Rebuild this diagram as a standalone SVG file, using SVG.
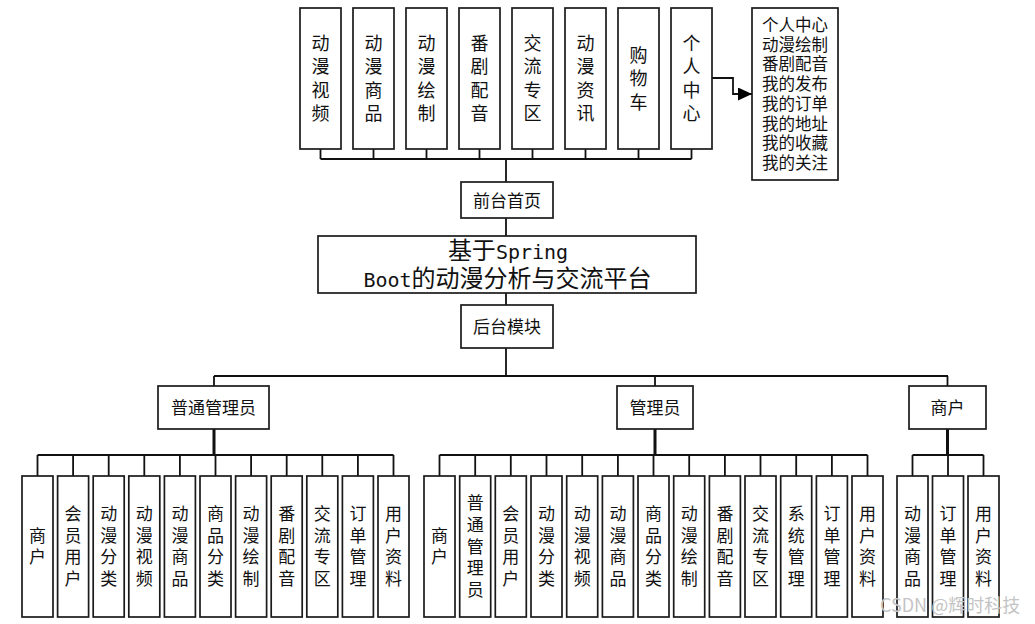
<svg xmlns="http://www.w3.org/2000/svg" width="1035" height="624" viewBox="0 0 1035 624">
<defs>
<style>
.bx{fill:#fff;stroke:#1a1a1a;stroke-width:1.7}
.ln{fill:none;stroke:#111;stroke-width:1.8}
.tk{fill:none;stroke:#111;stroke-width:3}
text{font-family:"Noto Sans CJK SC","Noto Sans",sans-serif;fill:#111}
.v18{font-size:18px;text-anchor:middle}
.v17{font-size:17px;text-anchor:middle}
.h17{font-size:17px;text-anchor:middle}
.lst{font-size:16.5px}
.ttl{font-size:24px;text-anchor:middle}
.mono{font-family:"DejaVu Sans Mono","Liberation Mono",monospace;font-size:20px}
.wm{font-size:18px;fill:#c4c4c4}
</style>
<marker id="ah" markerWidth="14" markerHeight="13" refX="14" refY="6.5" orient="auto" markerUnits="userSpaceOnUse">
<path d="M0,0 L14,6.5 L0,13 Z" fill="#000"/>
</marker>
</defs>
<rect width="1035" height="624" fill="#fff"/>
<g id="connectors">
<path class="ln" d="M320.5,149V159M373.5,149V159M426.5,149V159M479.5,149V159M532.5,149V159M585.5,149V159M638.5,149V159M691.5,149V159M320.5,159H691.5"/>
<path class="ln" d="M506,159V182M506,218V236M506,293V305M506,348V376"/>
<path class="ln" d="M711,78H733V94H752" marker-end="url(#ah)"/>
<path class="ln" d="M214,376H948M214,376V386M655,376V386M947.5,376V386"/>
<path class="tk" d="M214,429V455M655,429V455M947.5,429V455"/>
<path class="ln" d="M37.5,455H393.5M37.5,455V476M73.1,455V476M108.7,455V476M144.3,455V476M179.9,455V476M215.5,455V476M251.1,455V476M286.7,455V476M322.3,455V476M357.9,455V476M393.5,455V476"/>
<path class="ln" d="M439.5,455H867.5M439.5,455V476M475.2,455V476M510.8,455V476M546.5,455V476M582.2,455V476M617.9,455V476M653.5,455V476M689.2,455V476M724.9,455V476M760.5,455V476M796.2,455V476M831.9,455V476M867.5,455V476"/>
<path class="ln" d="M912.5,455H983.5M912.5,455V476M948,455V476M983.5,455V476"/>
</g>
<g id="top-nodes">
<g id="t1"><rect class="bx" x="300" y="8" width="41" height="141"/><text class="v18"><tspan x="320.5" y="49.5">动</tspan><tspan x="320.5" y="73">漫</tspan><tspan x="320.5" y="96.5">视</tspan><tspan x="320.5" y="120">频</tspan></text></g>
<g id="t2"><rect class="bx" x="353" y="8" width="41" height="141"/><text class="v18"><tspan x="373.5" y="49.5">动</tspan><tspan x="373.5" y="73">漫</tspan><tspan x="373.5" y="96.5">商</tspan><tspan x="373.5" y="120">品</tspan></text></g>
<g id="t3"><rect class="bx" x="406" y="8" width="41" height="141"/><text class="v18"><tspan x="426.5" y="49.5">动</tspan><tspan x="426.5" y="73">漫</tspan><tspan x="426.5" y="96.5">绘</tspan><tspan x="426.5" y="120">制</tspan></text></g>
<g id="t4"><rect class="bx" x="459" y="8" width="41" height="141"/><text class="v18"><tspan x="479.5" y="49.5">番</tspan><tspan x="479.5" y="73">剧</tspan><tspan x="479.5" y="96.5">配</tspan><tspan x="479.5" y="120">音</tspan></text></g>
<g id="t5"><rect class="bx" x="512" y="8" width="41" height="141"/><text class="v18"><tspan x="532.5" y="49.5">交</tspan><tspan x="532.5" y="73">流</tspan><tspan x="532.5" y="96.5">专</tspan><tspan x="532.5" y="120">区</tspan></text></g>
<g id="t6"><rect class="bx" x="565" y="8" width="41" height="141"/><text class="v18"><tspan x="585.5" y="49.5">动</tspan><tspan x="585.5" y="73">漫</tspan><tspan x="585.5" y="96.5">资</tspan><tspan x="585.5" y="120">讯</tspan></text></g>
<g id="t7"><rect class="bx" x="618" y="8" width="41" height="141"/><text class="v18"><tspan x="638.5" y="61.5">购</tspan><tspan x="638.5" y="85">物</tspan><tspan x="638.5" y="108.5">车</tspan></text></g>
<g id="t8"><rect class="bx" x="671" y="8" width="41" height="141"/><text class="v18"><tspan x="691.5" y="49.5">个</tspan><tspan x="691.5" y="73">人</tspan><tspan x="691.5" y="96.5">中</tspan><tspan x="691.5" y="120">心</tspan></text></g>
<g id="personal-list"><rect class="bx" x="752" y="8" width="86" height="172" fill="#fbfdff"/><text class="lst"><tspan x="762" y="31">个人中心</tspan><tspan x="762" y="50.7">动漫绘制</tspan><tspan x="762" y="70.4">番剧配音</tspan><tspan x="762" y="90.1">我的发布</tspan><tspan x="762" y="109.8">我的订单</tspan><tspan x="762" y="129.5">我的地址</tspan><tspan x="762" y="149.2">我的收藏</tspan><tspan x="762" y="168.9">我的关注</tspan></text></g>
</g>
<g id="front"><rect class="bx" x="461" y="182" width="92" height="36"/><text class="h17" x="507" y="206.5">前台首页</text></g>
<g id="main"><rect class="bx" x="318" y="236" width="378" height="57"/><text class="ttl"><tspan x="508" y="258.5">基于<tspan class="mono">Spring</tspan></tspan><tspan x="507.5" y="287"><tspan class="mono">Boot</tspan>的动漫分析与交流平台</tspan></text></g>
<g id="back"><rect class="bx" x="461" y="305" width="92" height="43"/><text class="h17" x="507" y="333">后台模块</text></g>
<g id="role1"><rect class="bx" x="158" y="386" width="111" height="43"/><text class="h17" x="213.5" y="414" font-size="17.5">普通管理员</text></g>
<g id="role2"><rect class="bx" x="617" y="386" width="76" height="43"/><text class="h17" x="655" y="414" font-size="17.5">管理员</text></g>
<g id="role3"><rect class="bx" x="909" y="386" width="77" height="43"/><text class="h17" x="947.5" y="414" font-size="17.5">商户</text></g>
<g id="group-a">
<g id="a1"><rect class="bx" x="22" y="476" width="31" height="141"/><text class="v17"><tspan x="37.5" y="541.6">商</tspan><tspan x="37.5" y="563.3">户</tspan></text></g>
<g id="a2"><rect class="bx" x="57.6" y="476" width="31" height="141"/><text class="v17"><tspan x="73.1" y="520">会</tspan><tspan x="73.1" y="541.6">员</tspan><tspan x="73.1" y="563.3">用</tspan><tspan x="73.1" y="585">户</tspan></text></g>
<g id="a3"><rect class="bx" x="93.2" y="476" width="31" height="141"/><text class="v17"><tspan x="108.7" y="520">动</tspan><tspan x="108.7" y="541.6">漫</tspan><tspan x="108.7" y="563.3">分</tspan><tspan x="108.7" y="585">类</tspan></text></g>
<g id="a4"><rect class="bx" x="128.8" y="476" width="31" height="141"/><text class="v17"><tspan x="144.3" y="520">动</tspan><tspan x="144.3" y="541.6">漫</tspan><tspan x="144.3" y="563.3">视</tspan><tspan x="144.3" y="585">频</tspan></text></g>
<g id="a5"><rect class="bx" x="164.4" y="476" width="31" height="141"/><text class="v17"><tspan x="179.9" y="520">动</tspan><tspan x="179.9" y="541.6">漫</tspan><tspan x="179.9" y="563.3">商</tspan><tspan x="179.9" y="585">品</tspan></text></g>
<g id="a6"><rect class="bx" x="200" y="476" width="31" height="141"/><text class="v17"><tspan x="215.5" y="520">商</tspan><tspan x="215.5" y="541.6">品</tspan><tspan x="215.5" y="563.3">分</tspan><tspan x="215.5" y="585">类</tspan></text></g>
<g id="a7"><rect class="bx" x="235.6" y="476" width="31" height="141"/><text class="v17"><tspan x="251.1" y="520">动</tspan><tspan x="251.1" y="541.6">漫</tspan><tspan x="251.1" y="563.3">绘</tspan><tspan x="251.1" y="585">制</tspan></text></g>
<g id="a8"><rect class="bx" x="271.2" y="476" width="31" height="141"/><text class="v17"><tspan x="286.7" y="520">番</tspan><tspan x="286.7" y="541.6">剧</tspan><tspan x="286.7" y="563.3">配</tspan><tspan x="286.7" y="585">音</tspan></text></g>
<g id="a9"><rect class="bx" x="306.8" y="476" width="31" height="141"/><text class="v17"><tspan x="322.3" y="520">交</tspan><tspan x="322.3" y="541.6">流</tspan><tspan x="322.3" y="563.3">专</tspan><tspan x="322.3" y="585">区</tspan></text></g>
<g id="a10"><rect class="bx" x="342.4" y="476" width="31" height="141"/><text class="v17"><tspan x="357.9" y="520">订</tspan><tspan x="357.9" y="541.6">单</tspan><tspan x="357.9" y="563.3">管</tspan><tspan x="357.9" y="585">理</tspan></text></g>
<g id="a11"><rect class="bx" x="378" y="476" width="31" height="141"/><text class="v17"><tspan x="393.5" y="520">用</tspan><tspan x="393.5" y="541.6">户</tspan><tspan x="393.5" y="563.3">资</tspan><tspan x="393.5" y="585">料</tspan></text></g>
</g>
<g id="group-b">
<g id="b1"><rect class="bx" x="424" y="476" width="31" height="141"/><text class="v17"><tspan x="439.5" y="541.6">商</tspan><tspan x="439.5" y="563.3">户</tspan></text></g>
<g id="b2"><rect class="bx" x="459.7" y="476" width="31" height="141"/><text class="v17"><tspan x="475.2" y="509.1">普</tspan><tspan x="475.2" y="530.8">通</tspan><tspan x="475.2" y="552.5">管</tspan><tspan x="475.2" y="574.2">理</tspan><tspan x="475.2" y="595.9">员</tspan></text></g>
<g id="b3"><rect class="bx" x="495.3" y="476" width="31" height="141"/><text class="v17"><tspan x="510.8" y="520">会</tspan><tspan x="510.8" y="541.6">员</tspan><tspan x="510.8" y="563.3">用</tspan><tspan x="510.8" y="585">户</tspan></text></g>
<g id="b4"><rect class="bx" x="531" y="476" width="31" height="141"/><text class="v17"><tspan x="546.5" y="520">动</tspan><tspan x="546.5" y="541.6">漫</tspan><tspan x="546.5" y="563.3">分</tspan><tspan x="546.5" y="585">类</tspan></text></g>
<g id="b5"><rect class="bx" x="566.7" y="476" width="31" height="141"/><text class="v17"><tspan x="582.2" y="520">动</tspan><tspan x="582.2" y="541.6">漫</tspan><tspan x="582.2" y="563.3">视</tspan><tspan x="582.2" y="585">频</tspan></text></g>
<g id="b6"><rect class="bx" x="602.4" y="476" width="31" height="141"/><text class="v17"><tspan x="617.9" y="520">动</tspan><tspan x="617.9" y="541.6">漫</tspan><tspan x="617.9" y="563.3">商</tspan><tspan x="617.9" y="585">品</tspan></text></g>
<g id="b7"><rect class="bx" x="638" y="476" width="31" height="141"/><text class="v17"><tspan x="653.5" y="520">商</tspan><tspan x="653.5" y="541.6">品</tspan><tspan x="653.5" y="563.3">分</tspan><tspan x="653.5" y="585">类</tspan></text></g>
<g id="b8"><rect class="bx" x="673.7" y="476" width="31" height="141"/><text class="v17"><tspan x="689.2" y="520">动</tspan><tspan x="689.2" y="541.6">漫</tspan><tspan x="689.2" y="563.3">绘</tspan><tspan x="689.2" y="585">制</tspan></text></g>
<g id="b9"><rect class="bx" x="709.4" y="476" width="31" height="141"/><text class="v17"><tspan x="724.9" y="520">番</tspan><tspan x="724.9" y="541.6">剧</tspan><tspan x="724.9" y="563.3">配</tspan><tspan x="724.9" y="585">音</tspan></text></g>
<g id="b10"><rect class="bx" x="745" y="476" width="31" height="141"/><text class="v17"><tspan x="760.5" y="520">交</tspan><tspan x="760.5" y="541.6">流</tspan><tspan x="760.5" y="563.3">专</tspan><tspan x="760.5" y="585">区</tspan></text></g>
<g id="b11"><rect class="bx" x="780.7" y="476" width="31" height="141"/><text class="v17"><tspan x="796.2" y="520">系</tspan><tspan x="796.2" y="541.6">统</tspan><tspan x="796.2" y="563.3">管</tspan><tspan x="796.2" y="585">理</tspan></text></g>
<g id="b12"><rect class="bx" x="816.4" y="476" width="31" height="141"/><text class="v17"><tspan x="831.9" y="520">订</tspan><tspan x="831.9" y="541.6">单</tspan><tspan x="831.9" y="563.3">管</tspan><tspan x="831.9" y="585">理</tspan></text></g>
<g id="b13"><rect class="bx" x="852" y="476" width="31" height="141"/><text class="v17"><tspan x="867.5" y="520">用</tspan><tspan x="867.5" y="541.6">户</tspan><tspan x="867.5" y="563.3">资</tspan><tspan x="867.5" y="585">料</tspan></text></g>
</g>
<g id="group-c">
<g id="c1"><rect class="bx" x="897" y="476" width="31" height="141"/><text class="v17"><tspan x="912.5" y="520">动</tspan><tspan x="912.5" y="541.6">漫</tspan><tspan x="912.5" y="563.3">商</tspan><tspan x="912.5" y="585">品</tspan></text></g>
<g id="c2"><rect class="bx" x="932.5" y="476" width="31" height="141"/><text class="v17"><tspan x="948" y="520">订</tspan><tspan x="948" y="541.6">单</tspan><tspan x="948" y="563.3">管</tspan><tspan x="948" y="585">理</tspan></text></g>
<g id="c3"><rect class="bx" x="968" y="476" width="31" height="141"/><text class="v17"><tspan x="983.5" y="520">用</tspan><tspan x="983.5" y="541.6">户</tspan><tspan x="983.5" y="563.3">资</tspan><tspan x="983.5" y="585">料</tspan></text></g>
</g>
<text class="wm" x="880" y="612">CSDN @辉时科技</text>
</svg>
